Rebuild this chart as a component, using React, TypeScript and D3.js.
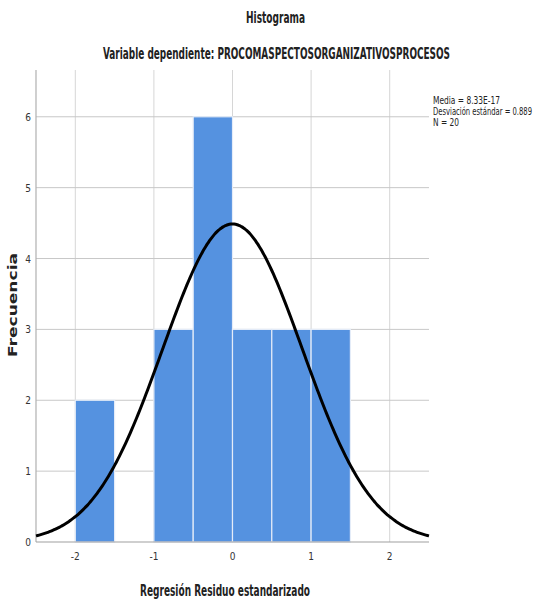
import React from 'react';
import * as d3 from 'd3';

// histogram bins (standardized residual), width 0.5
const binStarts = [-2, -1.5, -1, -0.5, 0, 0.5, 1];
const binCounts = [2, 0, 3, 6, 3, 3, 3];
const binWidth = 0.5;

const xTicks = [-2, -1, 0, 1, 2];
const yTicks = [0, 1, 2, 3, 4, 5, 6];

// summary stats shown in the legend
const media = 8.33e-17;
const desviacion = 0.889;
const n = 20;

const narrow = '"DejaVu Sans Condensed", "DejaVu Sans", sans-serif';

export default function App() {
    const width = 540, height = 603;
    const left = 36, right = 429, top = 70, bottom = 542;

    const x = d3.scaleLinear().domain([-2.5, 2.5]).range([left, right]);
    const y = d3.scaleLinear().domain([0, 6.66]).range([bottom, top]);

    // normal curve scaled to counts
    const curveXs = d3.range(-2.5, 2.5001, 0.02);
    const density = (v: number) =>
        n * binWidth * Math.exp(-((v - media) ** 2) / (2 * desviacion * desviacion)) / (desviacion * Math.sqrt(2 * Math.PI));
    const line = d3.line<number>()
        .x(d => x(d))
        .y(d => y(density(d)))
        .curve(d3.curveBasis);

    return (
        <svg width={width} height={height} style={{ position: 'absolute', left: 0, top: 0, background: '#fff' }}>
            <text x={246} y={23} textLength={59} lengthAdjust="spacingAndGlyphs" fontFamily={narrow} fontWeight="bold" fontSize={16} fill="#222">Histograma</text>
            <text x={103} y={59} textLength={347} lengthAdjust="spacingAndGlyphs" fontFamily={narrow} fontWeight="bold" fontSize={16} fill="#222">
                Variable dependiente: PROCOMASPECTOSORGANIZATIVOSPROCESOS
            </text>

            {/* grid */}
            {xTicks.map(t => (
                <line key={'gx' + t} x1={x(t)} x2={x(t)} y1={top} y2={bottom} stroke="#d6d6d6" strokeWidth={1} />
            ))}
            {yTicks.filter(t => t > 0).map(t => (
                <line key={'gy' + t} x1={left} x2={right} y1={y(t)} y2={y(t)} stroke="#c8c8c8" strokeWidth={1} />
            ))}

            {/* bars */}
            {binStarts.map((s, i) => binCounts[i] > 0 && (
                <rect key={'b' + i} x={x(s)} y={y(binCounts[i])} width={x(s + binWidth) - x(s)} height={bottom - y(binCounts[i])}
                    fill="#5592e0" stroke="#e4ecf8" strokeWidth={1.2} />
            ))}

            {/* axes */}
            <line x1={left} x2={left} y1={top} y2={bottom} stroke="#b0b0b0" strokeWidth={1.2} />
            <line x1={left} x2={right} y1={bottom} y2={bottom} stroke="#a0a0a0" strokeWidth={1.2} />

            {yTicks.map(t => (
                <text key={'yt' + t} x={left - 5} y={y(t) + 4} textAnchor="end" fontFamily={narrow} fontSize={10} fill="#333">{t}</text>
            ))}
            {xTicks.map(t => (
                <text key={'xt' + t} x={x(t)} y={bottom + 18} textAnchor="middle" fontFamily={narrow} fontSize={10} fill="#333">{t}</text>
            ))}

            {/* normal curve */}
            <path d={line(curveXs) || ''} fill="none" stroke="#000" strokeWidth={3} />

            <text transform="rotate(-90 17 305)" fontFamily="Verdana, 'DejaVu Sans', sans-serif"
                fontWeight="bold" fontSize={12} fill="#222">
                <tspan x={17} y={305} textLength={104} lengthAdjust="spacingAndGlyphs" textAnchor="middle">Frecuencia</tspan>
            </text>
            <text x={140} y={596} textLength={170} lengthAdjust="spacingAndGlyphs" fontFamily={narrow} fontWeight="bold" fontSize={16} fill="#222">Regresión Residuo estandarizado</text>

            {/* legend */}
            <g fontFamily={narrow} fontSize={10.5} fill="#222">
                <text x={433} y={104} textLength={67} lengthAdjust="spacingAndGlyphs">Media = 8.33E-17</text>
                <text x={433} y={115} textLength={99} lengthAdjust="spacingAndGlyphs">Desviación estándar = {desviacion}</text>
                <text x={433} y={126} textLength={26} lengthAdjust="spacingAndGlyphs">N = {n}</text>
            </g>
        </svg>
    );
}
